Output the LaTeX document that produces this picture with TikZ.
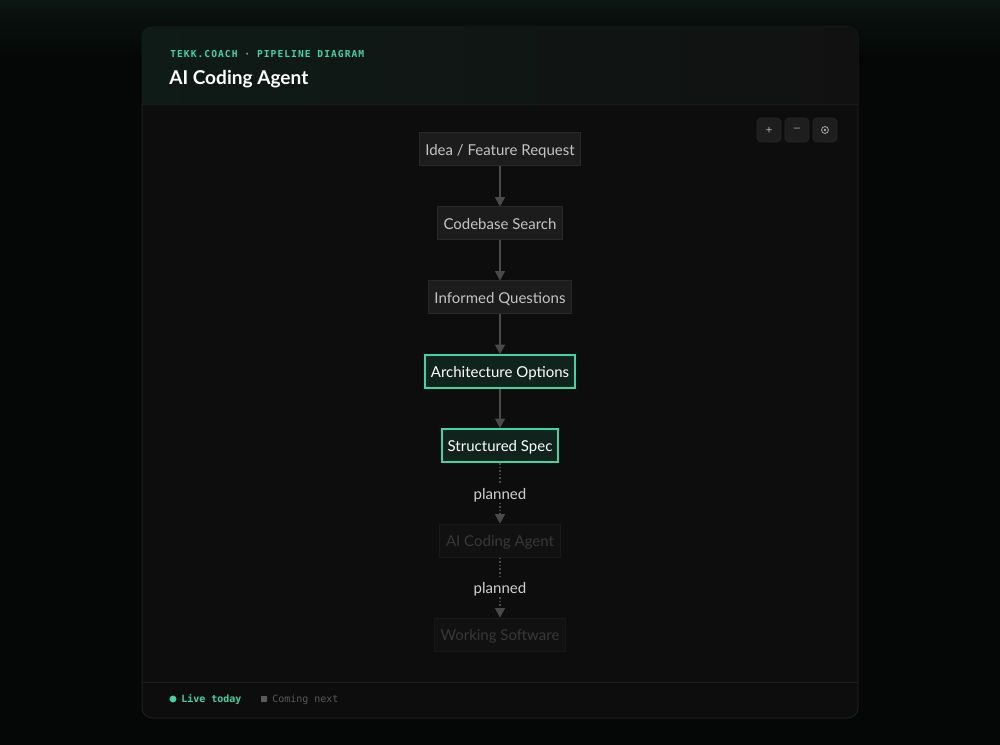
\documentclass[tikz,border=0pt]{standalone}
\usepackage{fontspec}
\setmainfont{Lato}
\newfontfamily\monofont{DejaVu Sans Mono}
\newfontfamily\tagfont[LetterSpace=11]{DejaVu Sans Mono}
\usetikzlibrary{arrows.meta}
\definecolor{bg}{HTML}{050606}
\definecolor{glow}{HTML}{0A1512}
\definecolor{card}{HTML}{0D0D0D}
\definecolor{cardline}{HTML}{1D1D1D}
\definecolor{headl}{HTML}{0F1B17}
\definecolor{headr}{HTML}{111111}
\definecolor{accent}{HTML}{3DD6A3}
\definecolor{livefill}{HTML}{10231D}
\definecolor{boxfill}{HTML}{1C1C1C}
\definecolor{boxline}{HTML}{282828}
\definecolor{boxtext}{HTML}{C4C4C4}
\definecolor{soonfill}{HTML}{111111}
\definecolor{soonline}{HTML}{191919}
\definecolor{soontext}{HTML}{383838}
\definecolor{edge}{HTML}{4A4A4A}
\definecolor{tagtext}{HTML}{CFCFCF}
\definecolor{btnfill}{HTML}{1E1E1E}
\definecolor{btntext}{HTML}{A8A8A8}
\definecolor{mute}{HTML}{5A5A5A}
\begin{document}
\begin{tikzpicture}[x=0.75pt,y=-0.75pt,
    box/.style={draw=boxline,fill=boxfill,text=boxtext,line width=0.75pt,
        font=\fontsize{11.25}{13}\selectfont,inner xsep=4.6pt,minimum height=24.75pt,
        text height=10pt,text depth=1pt},
    live/.style={box,draw=accent,fill=livefill,text=white,line width=1.5pt},
    soon/.style={box,draw=soonline,fill=soonfill,text=soontext},
    flow/.style={draw=edge,line width=0.9pt,-{Triangle[length=7pt,width=7.5pt]}},
    plan/.style={flow,dash pattern=on 1.2pt off 1.5pt},
    tag/.style={fill=card,text=tagtext,inner sep=1pt,font=\fontsize{11.3}{13}\selectfont,
        text height=10pt,text depth=1.2pt},
    btn/.style={draw=boxline,fill=btnfill,rounded corners=3pt,minimum size=18pt,
        inner sep=0pt,text=btntext,font=\monofont\fontsize{8}{9}\selectfont}]
    \useasboundingbox (0,0) rectangle (1000,745);
    % page and card
    \fill[bg] (0,0) rectangle (1000,745);
    \shade[top color=glow,bottom color=bg] (0,0) rectangle (1000,60);
    \filldraw[fill=card,draw=cardline,line width=0.75pt,rounded corners=7.5pt] (142,27) rectangle (858,718);
    \begin{scope}
        \clip[rounded corners=7.5pt] (142,27) rectangle (858,718);
        \shade[left color=headl,right color=headr] (142,27) rectangle (858,105);
    \end{scope}
    \draw[cardline,line width=0.75pt] (142,105) -- (858,105);
    \draw[cardline,line width=0.75pt] (142,682) -- (858,682);
    % header
    \node[anchor=west,text=accent,inner sep=0pt,font=\tagfont\bfseries\fontsize{7.2}{8}\selectfont] (tagline) at (170,54) {TEKK.COACH · PIPELINE DIAGRAM};
    \node[anchor=west,text=white,inner sep=0pt,font=\bfseries\fontsize{14.3}{16}\selectfont] (title) at (169,79.5) {AI Coding Agent};
    % zoom buttons
    \node[btn] (bplus) at (769,130) {+};
    \node[btn] (bminus) at (797,130) {\textendash};
    \node[btn] (breset) at (825,130) {};
    \draw[btntext,line width=0.6pt] (breset) circle (2.6pt);
    \fill[btntext] (breset) circle (1.1pt);
    % pipeline
    \node[box] (idea) at (500,149.5) {Idea / Feature Request};
    \node[box] (search) at (500,223.5) {Codebase Search};
    \node[box] (questions) at (500,297.5) {Informed Questions};
    \node[live] (options) at (500,371.5) {Architecture Options};
    \node[live] (spec) at (500,445.5) {Structured Spec};
    \node[soon] (agent) at (500,540.5) {AI Coding Agent};
    \node[soon] (software) at (500,634.5) {Working Software};
    \draw[flow] (idea) -- (search);
    \draw[flow] (search) -- (questions);
    \draw[flow] (questions) -- (options);
    \draw[flow] (options) -- (spec);
    \draw[plan] (spec) -- node[tag] (plana) {planned} (agent);
    \draw[plan] (agent) -- node[tag] (planb) {planned} (software);
    % legend
    \fill[accent] (173,699) circle (2.6pt);
    \node[anchor=west,text=accent,inner sep=0pt,font=\monofont\bfseries\fontsize{7.5}{9}\selectfont] (livekey) at (181,699.5) {Live today};
    \fill[mute,rounded corners=0.5pt] (261,696) rectangle (267,702);
    \node[anchor=west,text=mute,inner sep=0pt,font=\monofont\fontsize{7.5}{9}\selectfont] (soonkey) at (272,699.5) {Coming next};
\end{tikzpicture}
\end{document}
